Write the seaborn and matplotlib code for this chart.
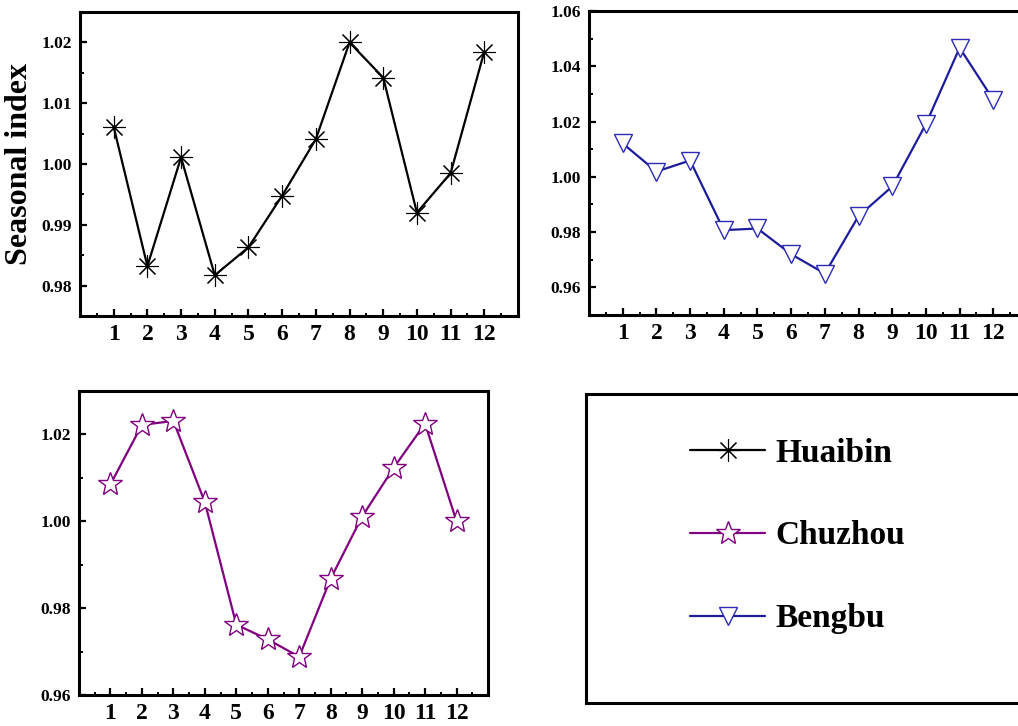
import matplotlib
matplotlib.use("Agg")
import matplotlib.pyplot as plt
from matplotlib.ticker import MultipleLocator
import pandas as pd
import seaborn as sns

# monthly seasonal indices
months = list(range(1, 13))
huaibin = [1.0061, 0.9832, 1.0011, 0.9817, 0.9863, 0.9948,
           1.0041, 1.0200, 1.0142, 0.9920, 0.9985, 1.0185]
bengbu = [1.0121, 1.0019, 1.0059, 0.9807, 0.9813, 0.9720,
          0.9650, 0.9858, 0.9965, 1.0191, 1.0467, 1.0279]
chuzhou = [1.0085, 1.0222, 1.0231, 1.0044, 0.9762, 0.9728,
           0.9688, 0.9868, 1.0011, 1.0123, 1.0225, 1.0000]

sns.set_style("ticks")
plt.rcParams["font.family"] = ["Liberation Serif", "DejaVu Serif"]
plt.rcParams["font.weight"] = "bold"
for k in ("text.color", "axes.labelcolor", "xtick.color", "ytick.color"):
    plt.rcParams[k] = "black"

W, H = 1018, 726
fig = plt.figure(figsize=(W / 100, H / 100), dpi=100)


def px_axes(left, top, right, bottom):
    return fig.add_axes([left / W, 1 - bottom / H, (right - left) / W, (bottom - top) / H])


def style_axes(ax, ylim, ticks):
    ax.set_xlim(0, 13)
    ax.xaxis.set_minor_locator(MultipleLocator(0.5))
    ax.set_xticks(months)
    ax.set_xticklabels([str(m) for m in months], fontsize=17, fontweight="bold")
    step = round(ticks[1] - ticks[0], 3)
    ax.yaxis.set_minor_locator(MultipleLocator(step / 2))
    ax.set_yticks(ticks)
    ax.set_yticklabels([f"{t:.2f}" for t in ticks], fontsize=12.5, fontweight="bold")
    ax.set_ylim(*ylim)
    ax.tick_params(which="major", direction="in", length=5, width=1.6, pad=6)
    ax.tick_params(which="minor", direction="in", length=3, width=1.4)
    ax.tick_params(axis="x", which="minor", length=2.5)
    for s in ax.spines.values():
        s.set_linewidth(2.2)
        s.set_color("black")
    ax.set_xlabel("")
    ax.set_ylabel("")


df_h = pd.DataFrame({"month": months, "index": huaibin})
df_b = pd.DataFrame({"month": months, "index": bengbu})
df_c = pd.DataFrame({"month": months, "index": chuzhou})

c_h, c_c, c_b = "black", "#800080", "#1c1c9c"

# Huaibin
ax1 = px_axes(80, 12, 518, 316)
sns.lineplot(data=df_h, x="month", y="index", ax=ax1, color=c_h, linewidth=1.6,
             marker=(8, 2, 0), markersize=16, markeredgecolor=c_h,
             markeredgewidth=0.8, label="Huaibin", legend=False)
style_axes(ax1, (0.975, 1.025), [0.98, 0.99, 1.00, 1.01, 1.02])
ax1.set_ylabel("Seasonal index", fontsize=23, fontweight="bold")
ax1.yaxis.set_label_coords(-0.105, 0.5)

# Bengbu
ax2 = px_axes(589, 11, 1027, 315)
sns.lineplot(data=df_b, x="month", y="index", ax=ax2, color=c_b, linewidth=1.6,
             marker="v", markersize=13.5, markerfacecolor="white",
             markeredgecolor="#2b2bb5", markeredgewidth=1.0, label="Bengbu", legend=False)
style_axes(ax2, (0.95, 1.06), [0.96, 0.98, 1.00, 1.02, 1.04, 1.06])

# Chuzhou
ax3 = px_axes(79, 391, 488, 695)
sns.lineplot(data=df_c, x="month", y="index", ax=ax3, color=c_c, linewidth=1.6,
             marker="*", markersize=18, markerfacecolor="white",
             markeredgecolor=c_c, markeredgewidth=1.0, label="Chuzhou", legend=False)
style_axes(ax3, (0.96, 1.03), [0.96, 0.98, 1.00, 1.02])

# legend panel
axl = px_axes(586, 394, 1030, 703)
axl.set_xticks([])
axl.set_yticks([])
for s in axl.spines.values():
    s.set_linewidth(2.2)
    s.set_color("black")
handles = [ax1.get_lines()[0], ax3.get_lines()[0], ax2.get_lines()[0]]
leg = fig.legend(handles, ["Huaibin", "Chuzhou", "Bengbu"],
                 loc="center left", bbox_to_anchor=(690 / W, 1 - 536 / H),
                 frameon=False, borderpad=0, borderaxespad=0,
                 handlelength=2.25, handletextpad=0.3, labelspacing=1.55,
                 prop={"family": "Liberation Serif", "weight": "bold", "size": 24})

fig.savefig("out.png", dpi=100)
